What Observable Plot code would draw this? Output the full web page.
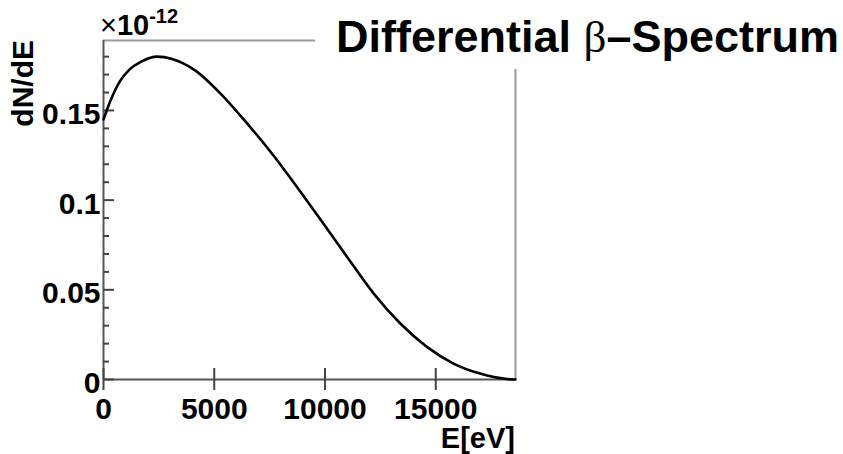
<!DOCTYPE html>
<html>
<head>
<meta charset="utf-8">
<script src="https://cdn.jsdelivr.net/npm/d3@7"></script>
<script src="https://cdn.jsdelivr.net/npm/@observablehq/plot@0.6"></script>
<style>
  html, body { margin: 0; padding: 0; background: #fff; }
  #chart { width: 843px; height: 454px; }
</style>
</head>
<body>
<div id="chart"></div>
<script>
// Kinetic energy of the emitted electron [eV]
const energy = [0, 300, 750, 1150, 1750, 2400, 3100, 4150, 5350, 6200, 7700, 8900,
                9950, 11000, 12200, 13400, 14600, 15800, 17000, 18200, 18600];
// Differential spectrum dN/dE, in units of 1e-12
const dNdE = [0.145, 0.155, 0.1665, 0.1725, 0.1775, 0.180, 0.1787, 0.1722, 0.1585, 0.1468,
              0.1245, 0.1045, 0.0866, 0.0683, 0.0479, 0.0312, 0.0182, 0.0089, 0.0033, 0.0003, 0];

const xTicks = [0, 5000, 10000, 15000];
const yTicks = [0, 0.05, 0.1, 0.15];
const yMinorTicks = [0.01, 0.02, 0.03, 0.04, 0.06, 0.07, 0.08, 0.09,
                     0.11, 0.12, 0.13, 0.14, 0.16, 0.17, 0.18];
const xDomain = [0, 18600];
const yDomain = [0, 0.189];

const W = 843, H = 454;
const mL = 103, mR = 328, mT = 40, mB = 75;
const plotW = W - mL - mR, plotH = H - mT - mB;
const font = "'Liberation Sans', Arial, Helvetica, sans-serif";

const points = energy.map((e, i) => ({e, v: dNdE[i]}));

const chart = Plot.plot({
  width: W,
  height: H,
  marginLeft: mL,
  marginRight: mR,
  marginTop: mT,
  marginBottom: mB,
  style: {fontFamily: font, color: "#000", background: "#fff"},
  x: {domain: xDomain},
  y: {domain: yDomain},
  marks: [
    // upper and right frame edges
    Plot.ruleY([yDomain[1]], {stroke: "#9a9a9a", strokeWidth: 2}),
    Plot.ruleX([xDomain[1]], {stroke: "#9a9a9a", strokeWidth: 2}),
    // axis lines
    Plot.ruleX([0], {stroke: "#555", strokeWidth: 2}),
    Plot.ruleY([0], {stroke: "#555", strokeWidth: 2}),
    // inward ticks on the y axis
    Plot.tickY(yTicks, {y: d => d, insetRight: plotW - 11, stroke: "#444", strokeWidth: 2}),
    Plot.tickY(yMinorTicks, {y: d => d, insetRight: plotW - 6, stroke: "#444", strokeWidth: 2}),
    // x ticks crossing the axis
    Plot.tickX(xTicks, {x: d => d, insetTop: plotH - 11, insetBottom: -11, stroke: "#444", strokeWidth: 2}),
    // spectrum
    Plot.line(points, {x: "e", y: "v", curve: "monotone-x", stroke: "#000", strokeWidth: 2.6}),
    Plot.axisY({ticks: yTicks, tickSize: 0, tickPadding: 3, tickFormat: d => String(d),
                fontSize: 30, fontWeight: "bold", dy: 4, label: null}),
    Plot.axisX({ticks: xTicks, tickSize: 0, tickPadding: 18, tickFormat: d => String(d),
                fontSize: 30, fontWeight: "bold", label: null})
  ]
});

document.getElementById("chart").appendChild(chart);

const svg = d3.select(chart);

// title pad
svg.append("rect")
  .attr("x", 315).attr("y", 0).attr("width", W - 315).attr("height", 69)
  .attr("fill", "#fff");

const t = svg.append("text")
  .attr("x", 336).attr("y", 52)
  .attr("text-anchor", "start")
  .attr("font-family", font).attr("font-size", 45).attr("font-weight", "bold")
  .attr("fill", "#000");
t.append("tspan").text("Differential ");
t.append("tspan").attr("font-family", "'Liberation Serif', 'DejaVu Serif', serif")
  .attr("font-weight", "normal").text("β");
t.append("tspan").text("–Spectrum");

// exponent of the y axis
const ex = svg.append("text")
  .attr("x", 100).attr("y", 35)
  .attr("text-anchor", "start")
  .attr("font-family", font).attr("fill", "#000");
ex.append("tspan").attr("font-size", 29).attr("font-weight", "normal").text("×");
ex.append("tspan").attr("font-size", 29).attr("font-weight", "bold").text("10");
ex.append("tspan").attr("font-size", 20).attr("font-weight", "bold").attr("dy", -12).text("-12");

// axis titles
svg.append("text")
  .attr("transform", "translate(33,40) rotate(-90)")
  .attr("text-anchor", "end")
  .attr("font-family", font).attr("font-size", 30).attr("font-weight", "bold")
  .attr("fill", "#000")
  .text("dN/dE");

svg.append("text")
  .attr("x", 515).attr("y", 448)
  .attr("text-anchor", "end")
  .attr("font-family", font).attr("font-size", 29).attr("font-weight", "bold")
  .attr("fill", "#000")
  .text("E[eV]");
</script>
</body>
</html>
